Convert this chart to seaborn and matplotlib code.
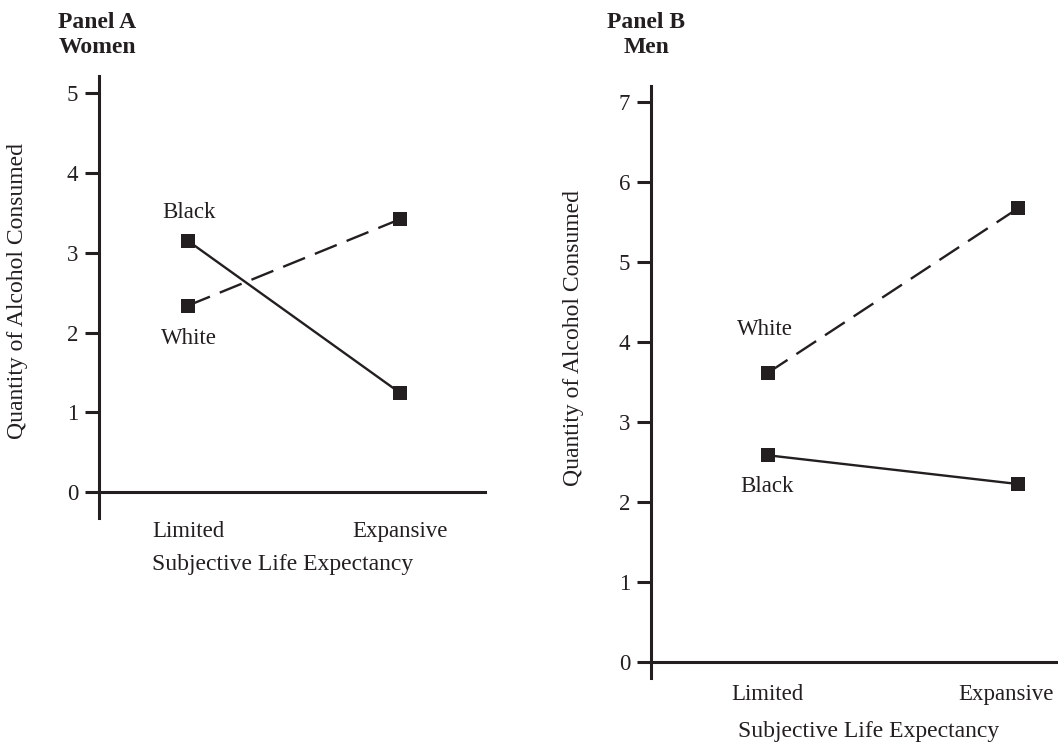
import numpy as np
import pandas as pd
import seaborn as sns
import matplotlib.pyplot as plt
from matplotlib.transforms import ScaledTranslation

# categories and values
expectancy = ["Limited", "Expansive"]
race = ["Black", "White"]
women_black = [3.15, 1.25]
women_white = [2.34, 3.42]
men_black = [2.58, 2.22]
men_white = [3.61, 5.67]
women_yticks = [0, 1, 2, 3, 4, 5]
men_yticks = [0, 1, 2, 3, 4, 5, 6, 7]

INK = "#231f20"

sns.set_style("ticks")
plt.rcParams["font.family"] = ["Liberation Serif", "DejaVu Serif"]
plt.rcParams["text.color"] = INK
plt.rcParams["axes.labelcolor"] = INK
plt.rcParams["xtick.color"] = INK
plt.rcParams["ytick.color"] = INK


def long_frame(black, white):
    pos = np.arange(len(expectancy))
    return pd.DataFrame({
        "pos": np.concatenate([pos, pos]),
        "value": black + white,
        "race": [race[0]] * len(black) + [race[1]] * len(white),
    })


W, H = 1058, 742
fig = plt.figure(figsize=(W / 100, H / 100), dpi=100)


def px_axes(left, top, right, bottom):
    return fig.add_axes([left / W, 1 - bottom / H, (right - left) / W, (bottom - top) / H])


ax_a = px_axes(99, 76, 485, 518.3)
ax_b = px_axes(651, 86, 1058, 678)


def draw_panel(ax, df, yticks, ylim, xlim, xpad, ylab_xy, xlab_xy, title, title_xy, labels):
    sns.lineplot(
        data=df, x="pos", y="value", style="race",
        markers={"Black": "s", "White": "s"},
        dashes={"Black": "", "White": (10, 4.5)},
        color=INK, linewidth=1.7, markersize=10.5,
        markeredgewidth=0, markeredgecolor=INK,
        legend=False, ax=ax, clip_on=False,
    )
    ax.set_xlim(*xlim)
    ax.set_ylim(*ylim)
    ax.set_yticks(yticks)
    ax.set_xticks(np.arange(len(expectancy)))
    ax.set_xticklabels(expectancy)
    sns.despine(ax=ax)
    ax.spines["bottom"].set_position(("data", 0))
    for s in ("left", "bottom"):
        ax.spines[s].set_linewidth(2.2)
        ax.spines[s].set_color(INK)
    ax.tick_params(axis="y", length=10, width=2.2, labelsize=16.5, pad=5)
    ax.tick_params(axis="x", length=0, labelsize=16.5, pad=xpad)
    ax.set_ylabel("Quantity of Alcohol Consumed", fontsize=17)
    ax.yaxis.set_label_coords(*ylab_xy)
    ax.set_xlabel("Subjective Life Expectancy", fontsize=17)
    ax.xaxis.set_label_coords(*xlab_xy)
    ax.text(title_xy[0], title_xy[1], title, transform=ax.transAxes,
            ha="center", va="center", fontsize=17, fontweight="bold",
            linespacing=1.25, multialignment="center")
    for name, (lx, ly) in labels.items():
        ax.text(lx, ly, name, ha="center", va="center", fontsize=16.5)


draw_panel(
    ax_a, long_frame(women_black, women_white), women_yticks,
    ylim=(-0.326, 5.217), xlim=(-0.421, 1.404), xpad=21,
    ylab_xy=(-0.183, 0.513), xlab_xy=(0.477, -0.08),
    title="Panel A\nWomen", title_xy=(-0.005, 1.093),
    labels={"Black": (0.005, 3.51), "White": (0.005, 1.93)},
)
draw_panel(
    ax_b, long_frame(men_black, men_white), men_yticks,
    ylim=(-0.204, 7.196), xlim=(-0.466, 1.158), xpad=16,
    ylab_xy=(-0.165, 0.574), xlab_xy=(0.534, -0.072),
    title="Panel B\nMen", title_xy=(-0.012, 1.086),
    labels={"White": (-0.012, 4.155), "Black": (-0.004, 2.196)},
)

# the right-hand label in panel B sits a little left so it stays on the page
last = ax_b.get_xticklabels()[-1]
last.set_transform(last.get_transform() + ScaledTranslation(-12 / 100, 0, fig.dpi_scale_trans))

fig.savefig("out.png", dpi=100)
